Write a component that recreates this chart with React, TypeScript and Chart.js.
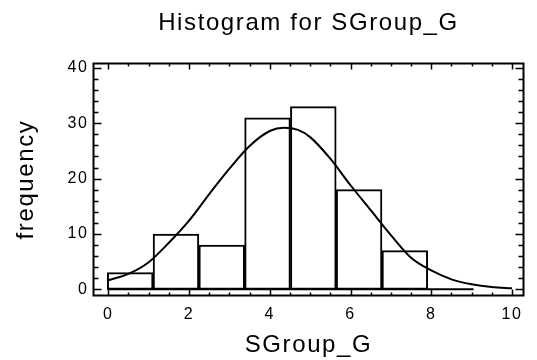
import React, { useEffect, useRef } from 'react';
import { Chart, registerables } from 'chart.js';

Chart.register(...registerables);

// ---- data ----
const binCenters = [0.542, 1.676, 2.81, 3.944, 5.078, 6.212, 7.346, 8.48];
const binCounts = [3, 10, 8, 31, 33, 18, 7, 0];
const baselineX = [-0.025, 9.047];
const curveX = [-0.03, 0.5, 1.0, 1.5, 2.0, 2.5, 3.0, 3.5, 4.0, 4.35, 4.7, 5.0, 5.5, 6.0, 6.5, 7.0, 7.5, 8.0, 8.5, 9.0, 9.5, 10.0];
const curveY = [1.6, 2.8, 4.9, 8.4, 12.4, 17.2, 21.8, 25.9, 28.6, 29.2, 28.8, 27.5, 23.6, 18.8, 14.3, 9.8, 5.7, 3.4, 1.8, 0.9, 0.4, 0.2];
const xTickValues = [0, 2, 4, 6, 8, 10];
const yTickValues = [0, 10, 20, 30, 40];
const xMinorStep = 0.5;
const yMinorStep = 2;
const titleText = 'Histogram for SGroup_G';
const xTitle = 'SGroup_G';
const yTitle = 'frequency';

const FONT = "'Liberation Sans', Arial, sans-serif";

const framePlugin = {
  id: 'frameTicks',
  beforeDraw(chart: any) {
    try { chart.ctx.letterSpacing = '1.6px'; } catch (e) {}
  },
  afterLayout(chart: any) {
    const tb = chart.titleBlock;
    if (tb) {
      tb.left = chart.chartArea.left;
      tb.right = chart.chartArea.right;
    }
  },
  afterDatasetsDraw(chart: any) {
    const { ctx, chartArea: a, scales } = chart;
    const xs = scales.x;
    const ys = scales.y;
    ctx.save();
    ctx.strokeStyle = '#000';
    ctx.lineWidth = 2;
    ctx.strokeRect(a.left, a.top, a.right - a.left, a.bottom - a.top);
    ctx.lineWidth = 1.5;
    ctx.beginPath();
    const x0 = xTickValues[0];
    const x1 = xTickValues[xTickValues.length - 1];
    for (let v = x0; v <= x1 + 1e-9; v += xMinorStep) {
      const major = xTickValues.some((t) => Math.abs(t - v) < 1e-6);
      const len = major ? 6 : 3;
      const px = Math.round(xs.getPixelForValue(v)) + 0.5;
      ctx.moveTo(px, a.bottom);
      ctx.lineTo(px, a.bottom - len);
      ctx.moveTo(px, a.top);
      ctx.lineTo(px, a.top + len);
    }
    const y0 = yTickValues[0];
    const y1 = yTickValues[yTickValues.length - 1];
    for (let v = y0; v <= y1 + 1e-9; v += yMinorStep) {
      const major = yTickValues.some((t) => Math.abs(t - v) < 1e-6);
      const len = major ? 8 : 5;
      const py = Math.round(ys.getPixelForValue(v)) + 0.5;
      ctx.moveTo(a.left, py);
      ctx.lineTo(a.left + len, py);
      ctx.moveTo(a.right, py);
      ctx.lineTo(a.right - len, py);
    }
    ctx.stroke();
    ctx.restore();
  },
};

export default function App() {
  const ref = useRef<HTMLCanvasElement | null>(null);

  useEffect(() => {
    if (!ref.current) return;
    const chart = new Chart(ref.current, {
      type: 'bar',
      data: {
        datasets: [
          {
            type: 'line',
            data: curveX.map((x, i) => ({ x, y: curveY[i] })),
            borderColor: '#000',
            borderWidth: 2,
            pointRadius: 0,
            tension: 0.4,
            cubicInterpolationMode: 'monotone',
            fill: false,
            order: 1,
          } as any,
          {
            type: 'line',
            data: baselineX.map((x) => ({ x, y: 0 })),
            borderColor: '#000',
            borderWidth: 2,
            pointRadius: 0,
            fill: false,
            order: 2,
          } as any,
          {
            type: 'bar',
            data: binCenters.map((x, i) => ({ x, y: binCounts[i] })),
            backgroundColor: '#fff',
            borderColor: '#000',
            borderWidth: 2,
            borderSkipped: false,
            barPercentage: 1,
            categoryPercentage: 1,
            order: 3,
          } as any,
        ],
      },
      options: {
        animation: false,
        responsive: false,
        events: [],
        layout: { padding: { left: 0, right: 13.5, top: 0, bottom: 0 } },
        plugins: {
          legend: { display: false },
          tooltip: { enabled: false },
          title: {
            display: true,
            text: titleText,
            color: '#000',
            font: { family: FONT, size: 24, weight: 'normal', lineHeight: 1.2 },
            padding: { top: 9, bottom: 25.7 },
          },
        },
        scales: {
          x: {
            type: 'linear',
            min: -0.367,
            max: 10.285,
            offset: false,
            grid: { display: false, drawTicks: false, offset: false },
            border: { display: false },
            afterBuildTicks: (s: any) => {
              s.ticks = xTickValues.map((v) => ({ value: v }));
            },
            afterFit: (s: any) => {
              s.height = 64.5;
              s.paddingLeft = 0;
              s.paddingRight = 0;
            },
            ticks: {
              autoSkip: false,
              maxRotation: 0,
              padding: 9.3,
              color: '#000',
              font: { family: FONT, size: 16 },
            },
            title: {
              display: true,
              text: xTitle,
              color: '#000',
              font: { family: FONT, size: 24, lineHeight: 1.2 },
              padding: { top: 0, bottom: 0 },
            },
          },
          y: {
            type: 'linear',
            min: -1.12,
            max: 40.8,
            grid: { display: false, drawTicks: false },
            border: { display: false },
            afterBuildTicks: (s: any) => {
              s.ticks = yTickValues.map((v) => ({ value: v }));
            },
            afterFit: (s: any) => {
              s.width = 93.5;
              s.paddingTop = 0;
              s.paddingBottom = 0;
            },
            ticks: {
              autoSkip: false,
              padding: 5,
              color: '#000',
              font: { family: FONT, size: 16 },
            },
            title: {
              display: true,
              text: yTitle,
              color: '#000',
              font: { family: FONT, size: 24, lineHeight: 1.2 },
              padding: { top: 11.6, bottom: 0 },
            },
          },
        },
      },
      plugins: [framePlugin as any],
    } as any);
    return () => chart.destroy();
  }, []);

  return (
    <div style={{ position: 'absolute', left: 0, top: 0, width: 537, height: 360, background: '#fff' }}>
      <canvas ref={ref} width={537} height={360} style={{ display: 'block' }} />
    </div>
  );
}
